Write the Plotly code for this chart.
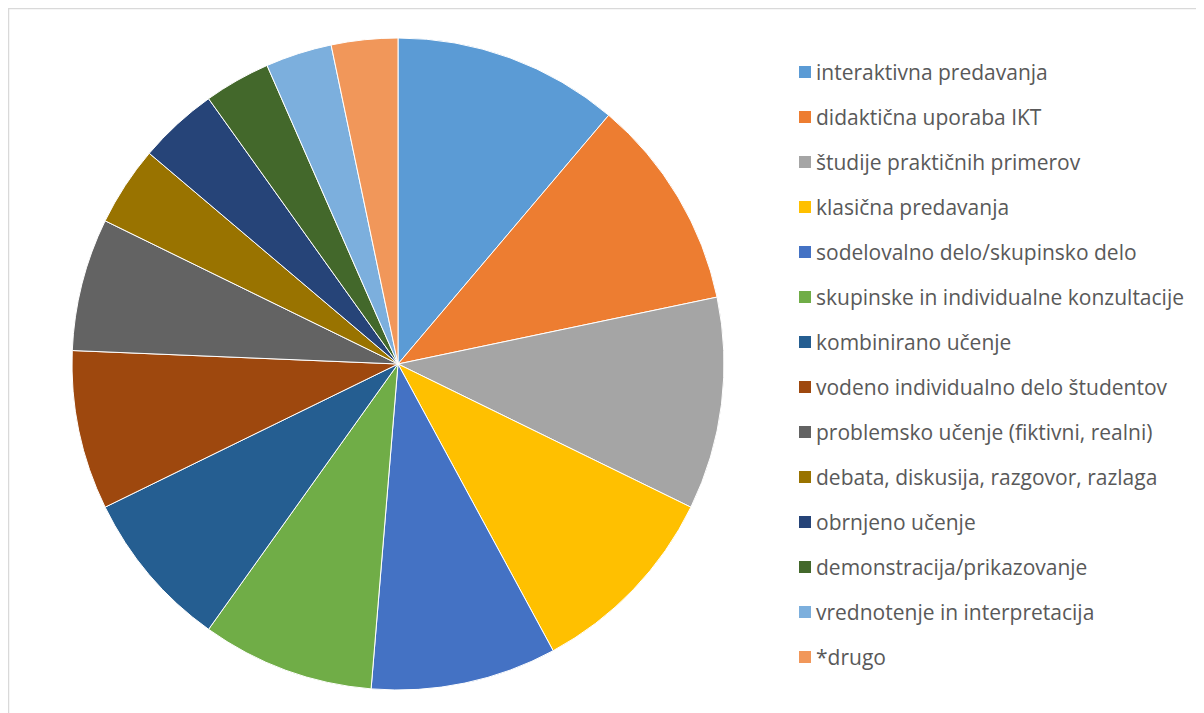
import plotly.graph_objects as go

labels = [
    "interaktivna predavanja",
    "didaktična uporaba IKT",
    "študije praktičnih primerov",
    "klasična predavanja",
    "sodelovalno delo/skupinsko delo",
    "skupinske in individualne konzultacije",
    "kombinirano učenje",
    "vodeno individualno delo študentov",
    "problemsko učenje (fiktivni, realni)",
    "debata, diskusija, razgovor, razlaga",
    "obrnjeno učenje",
    "demonstracija/prikazovanje",
    "vrednotenje in interpretacija",
    "*drugo",
]
values = [34, 32, 32, 30, 28, 26, 24, 24, 20, 12, 12, 10, 10, 10]
colors = [
    "#5B9BD5", "#ED7D31", "#A5A5A5", "#FFC000", "#4472C4", "#70AD47",
    "#255E91", "#9E480E", "#636363", "#997300", "#264478", "#43682B",
    "#7CAFDD", "#F1975A",
]

W, H = 1204, 713
off = 8  # page body margin
cx, cy, r = 398 - off, 364 - off, 326

fig = go.Figure(go.Pie(
    labels=labels, values=values, sort=False, direction="clockwise", rotation=0,
    marker=dict(colors=colors, line=dict(color="white", width=1)),
    textinfo="none", hoverinfo="label+value", showlegend=False,
    domain=dict(x=[(cx - r) / W, (cx + r) / W], y=[1 - (cy + r) / H, 1 - (cy - r) / H]),
))

shapes = [dict(type="rect", xref="paper", yref="paper",
               x0=0.5 / W, y0=-0.01, x1=1.01, y1=1 - 0.5 / H,
               line=dict(color="#D9D9D9", width=1.5), fillcolor="rgba(0,0,0,0)")]
annotations = []
y_start, step = 72 - off, 45
ms = 12
lx = 799 - off
for i, (lab, col) in enumerate(zip(labels, colors)):
    yc = y_start + i * step
    shapes.append(dict(type="rect", xref="paper", yref="paper",
                       x0=lx / W, x1=(lx + ms) / W,
                       y0=1 - (yc + ms / 2) / H, y1=1 - (yc - ms / 2) / H,
                       fillcolor=col, line=dict(width=0)))
    annotations.append(dict(xref="paper", yref="paper", x=(lx + 15) / W, y=1 - yc / H,
                            text=lab, showarrow=False, xanchor="left", yanchor="middle",
                            font=dict(family="Open Sans", size=21, color="#595959")))

fig.update_layout(width=W, height=H, margin=dict(l=0, r=0, t=0, b=0),
                  paper_bgcolor="white", plot_bgcolor="white",
                  shapes=shapes, annotations=annotations)
fig.write_html("out.html")
